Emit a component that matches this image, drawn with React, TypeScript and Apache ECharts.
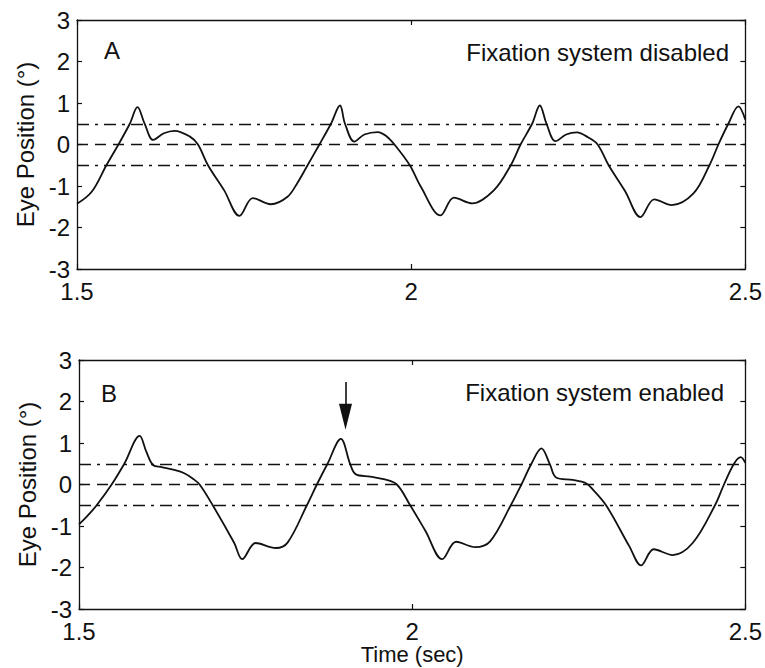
import React, { useEffect, useRef } from "react";
import * as echarts from "echarts";

// Panel A: fixation system disabled
const timeA = [
  1.5, 1.522, 1.544, 1.562, 1.579, 1.5905, 1.601, 1.614, 1.63, 1.646, 1.669, 1.681, 1.696, 1.72, 1.743,
  1.763, 1.79, 1.815, 1.83, 1.845, 1.8627, 1.88, 1.8935, 1.901, 1.915, 1.93, 1.95, 1.963, 1.975, 1.998,
  2.0145, 2.044, 2.064, 2.0915, 2.124, 2.149, 2.1637, 2.181, 2.1925, 2.2025, 2.216, 2.232, 2.248, 2.265,
  2.279, 2.2955, 2.32, 2.343, 2.3637, 2.39, 2.4224, 2.4463, 2.4597, 2.4746, 2.4896, 2.5,
];
const posA = [
  -1.43, -1.14, -0.5, 0.0, 0.5, 0.9, 0.51, 0.11, 0.27, 0.33, 0.19, 0.0, -0.5, -1.1, -1.72,
  -1.29, -1.44, -1.26, -0.92, -0.5, 0.0, 0.5, 0.94, 0.5, 0.07, 0.24, 0.3, 0.2, 0.0, -0.5,
  -1.02, -1.71, -1.28, -1.42, -1.1, -0.5, 0.0, 0.5, 0.94, 0.5, 0.08, 0.24, 0.29, 0.17,
  0.0, -0.5, -1.12, -1.75, -1.32, -1.46, -1.18, -0.5, 0.0, 0.5, 0.92, 0.6,
];

// Panel B: fixation system enabled
const timeB = [
  1.5, 1.513, 1.5265, 1.549, 1.568, 1.591, 1.601, 1.611, 1.624, 1.643, 1.658, 1.671, 1.681, 1.7007, 1.733,
  1.745, 1.765, 1.7955, 1.813, 1.842, 1.857, 1.873, 1.893, 1.907, 1.915, 1.937, 1.957, 1.977, 1.997, 2.02,
  2.045, 2.066, 2.0945, 2.117, 2.148, 2.164, 2.179, 2.194, 2.2066, 2.216, 2.241, 2.261, 2.27, 2.291, 2.326,
  2.3435, 2.3625, 2.391, 2.421, 2.4545, 2.468, 2.483, 2.493, 2.5,
];
const posB = [
  -0.96, -0.75, -0.5, 0.0, 0.5, 1.17, 0.79, 0.47, 0.42, 0.35, 0.27, 0.14, 0.0, -0.5, -1.41,
  -1.8, -1.41, -1.53, -1.4, -0.5, 0.0, 0.5, 1.1, 0.49, 0.25, 0.19, 0.13, 0.0, -0.5, -1.12,
  -1.8, -1.38, -1.51, -1.37, -0.5, 0.0, 0.5, 0.87, 0.49, 0.17, 0.11, 0.03, -0.1, -0.5, -1.49,
  -1.95, -1.56, -1.7, -1.41, -0.5, 0.0, 0.5, 0.66, 0.52,
];

const xRange = [1.5, 2.5];
const yRange = [-3, 3];
const centerLine = 0;
const bandLines = [0.5, -0.5];
const panelLabels = ["A", "B"];
const panelTitles = ["Fixation system disabled", "Fixation system enabled"];
const arrowTime = 1.9;
const arrowFrom = 2.47;
const arrowHead = 1.63;

const FONT = "'Liberation Sans', Arial, Helvetica, sans-serif";
const INK = "#111";
const FS = 24;

export default function App() {
  const ref = useRef<HTMLDivElement>(null);

  useEffect(() => {
    if (!ref.current) return;
    const chart = echarts.init(ref.current, null, { renderer: "svg" });

    const refLines = [
      { yAxis: centerLine, lineStyle: { type: [11, 7], width: 1.4, color: INK } },
      ...bandLines.map((v) => ({ yAxis: v, lineStyle: { type: [12, 6, 3, 6], width: 1.3, color: INK } })),
    ];

    const xAxisBase = (gridIndex: number, position: string, labels: boolean, extra: any = {}) => ({
      type: "value",
      gridIndex,
      position,
      min: xRange[0],
      max: xRange[1],
      interval: 0.5,
      axisLine: { show: true, onZero: false, lineStyle: { color: INK, width: 1.3 } },
      axisTick: { show: true, inside: true, length: 5, lineStyle: { color: INK, width: 1.2 } },
      axisLabel: { show: labels, margin: 10, color: INK, fontSize: FS, fontFamily: FONT },
      splitLine: { show: false },
      ...extra,
    });
    const yAxisBase = (gridIndex: number, position: string, labels: boolean, extra: any = {}) => ({
      type: "value",
      gridIndex,
      position,
      min: yRange[0],
      max: yRange[1],
      interval: 1,
      axisLine: { show: true, onZero: false, lineStyle: { color: INK, width: 1.3 } },
      axisTick: { show: true, inside: true, length: 5, lineStyle: { color: INK, width: 1.2 } },
      axisLabel: {
        show: labels,
        margin: 7,
        color: INK,
        fontSize: FS,
        fontFamily: FONT,
        lineHeight: 22,
        padding: [0, 0, 4, 0],
      },
      splitLine: { show: false },
      ...extra,
    });
    const yName = {
      name: "Eye Position (°)",
      nameLocation: "middle",
      nameGap: 35,
      nameTextStyle: { color: INK, fontSize: FS, fontFamily: FONT },
    };

    chart.setOption({
      animation: false,
      backgroundColor: "#fff",
      grid: [
        { left: 77, top: 20, width: 670, height: 249 },
        { left: 79, top: 360, width: 669, height: 249 },
      ],
      xAxis: [
        xAxisBase(0, "bottom", true),
        xAxisBase(0, "top", false),
        xAxisBase(1, "bottom", true, {
          name: "Time (sec)",
          nameLocation: "middle",
          nameGap: 34,
          nameTextStyle: { color: INK, fontSize: 22, fontFamily: FONT },
        }),
        xAxisBase(1, "top", false),
      ],
      yAxis: [
        yAxisBase(0, "left", true, yName),
        yAxisBase(0, "right", false),
        yAxisBase(1, "left", true, yName),
        yAxisBase(1, "right", false),
      ],
      series: [
        {
          type: "line",
          xAxisIndex: 0,
          yAxisIndex: 0,
          data: timeA.map((t, i) => [t, posA[i]]),
          showSymbol: false,
          smooth: 0.35,
          lineStyle: { color: INK, width: 1.8 },
          markLine: { silent: true, symbol: "none", label: { show: false }, data: refLines },
        },
        {
          type: "line",
          xAxisIndex: 2,
          yAxisIndex: 2,
          data: timeB.map((t, i) => [t, posB[i]]),
          showSymbol: false,
          smooth: 0.35,
          lineStyle: { color: INK, width: 1.8 },
          markLine: {
            silent: true,
            symbol: "none",
            label: { show: false },
            data: [
              ...refLines,
              [
                { coord: [arrowTime, arrowFrom] },
                { coord: [arrowTime, arrowHead], lineStyle: { type: "solid", width: 1.6, color: INK } },
              ],
            ],
          },
        },
        {
          type: "scatter",
          xAxisIndex: 2,
          yAxisIndex: 2,
          silent: true,
          data: [[arrowTime, arrowHead]],
          symbol: "triangle",
          symbolRotate: 180,
          symbolSize: [13, 26],
          itemStyle: { color: INK, opacity: 1 },
        },
      ],
      graphic: [
        {
          type: "text",
          x: 112,
          y: 50,
          style: { text: panelLabels[0], fontSize: FS, fontFamily: FONT, fill: INK, align: "center", verticalAlign: "middle" },
        },
        {
          type: "text",
          x: 109,
          y: 393,
          style: { text: panelLabels[1], fontSize: FS, fontFamily: FONT, fill: INK, align: "center", verticalAlign: "middle" },
        },
        {
          type: "text",
          x: 729,
          y: 52,
          style: { text: panelTitles[0], fontSize: FS, fontFamily: FONT, fill: INK, align: "right", verticalAlign: "middle" },
        },
        {
          type: "text",
          x: 724,
          y: 392,
          style: { text: panelTitles[1], fontSize: FS, fontFamily: FONT, fill: INK, align: "right", verticalAlign: "middle" },
        },
      ],
    });

    return () => chart.dispose();
  }, []);

  return (
    <div
      ref={ref}
      style={{ position: "absolute", left: 0, top: 0, width: 765, height: 668, background: "#fff" }}
    />
  );
}
